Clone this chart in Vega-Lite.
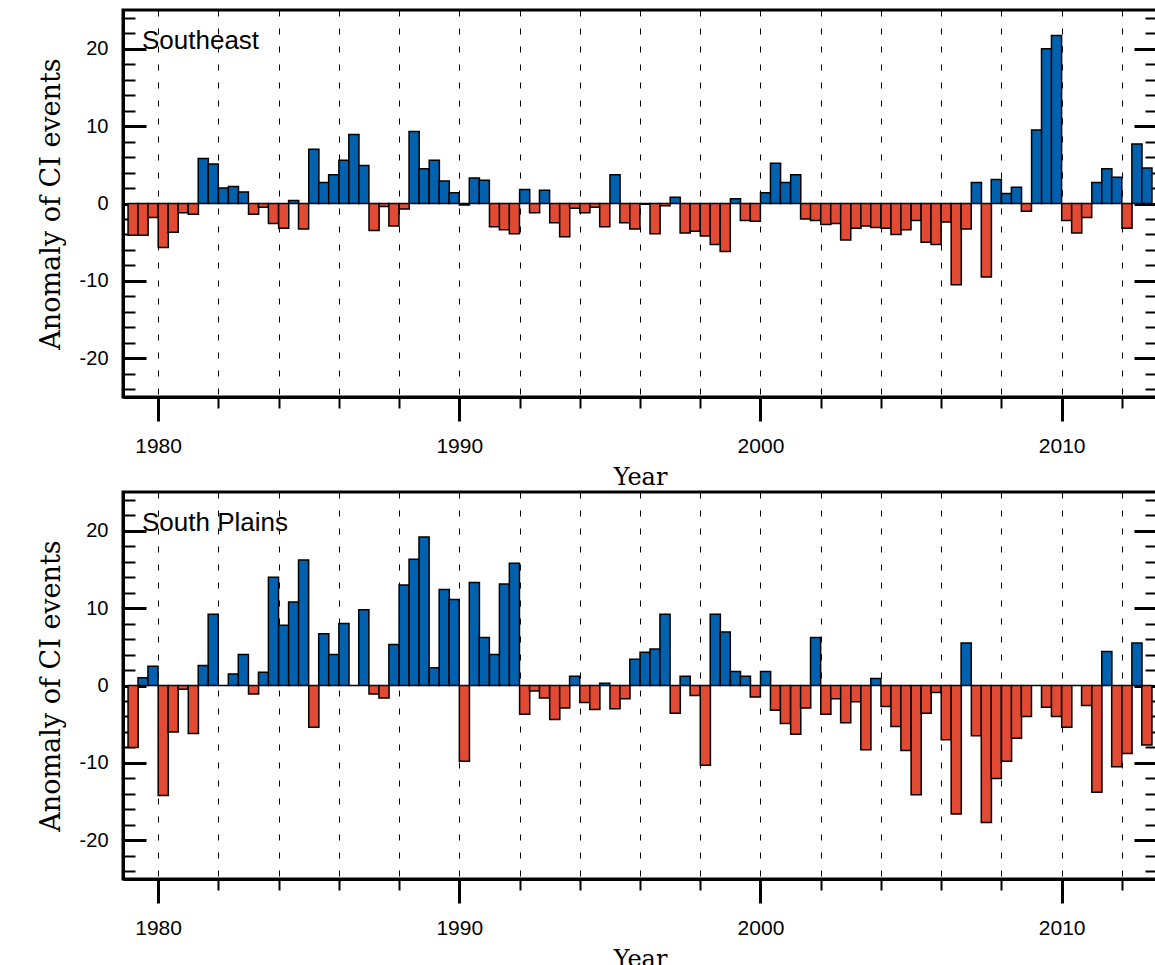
{
  "$schema": "https://vega.github.io/schema/vega-lite/v6.json",
  "background": "white",
  "padding": {"left": 35, "top": 6, "right": 0, "bottom": 0},
  "bounds": "flush",
  "spacing": 95,
  "config": {
    "view": {"stroke": "black", "strokeWidth": 3},
    "axis": {"labelOverlap": false, "labelColor": "black", "titleColor": "black", "tickColor": "black", "domainColor": "black"}
  },
  "datasets": {
    "se": [
      {"t": 1979.17, "v": -4.1}, {"t": 1979.5, "v": -4.1}, {"t": 1979.83, "v": -1.8},
      {"t": 1980.17, "v": -5.7}, {"t": 1980.5, "v": -3.7}, {"t": 1980.83, "v": -1.2},
      {"t": 1981.17, "v": -1.4}, {"t": 1981.5, "v": 5.8}, {"t": 1981.83, "v": 5.1},
      {"t": 1982.17, "v": 2.0}, {"t": 1982.5, "v": 2.2}, {"t": 1982.83, "v": 1.5},
      {"t": 1983.17, "v": -1.4}, {"t": 1983.5, "v": -0.5}, {"t": 1983.83, "v": -2.6},
      {"t": 1984.17, "v": -3.2}, {"t": 1984.5, "v": 0.4}, {"t": 1984.83, "v": -3.3},
      {"t": 1985.17, "v": 7.0}, {"t": 1985.5, "v": 2.7}, {"t": 1985.83, "v": 3.7},
      {"t": 1986.17, "v": 5.6}, {"t": 1986.5, "v": 8.9}, {"t": 1986.83, "v": 4.9},
      {"t": 1987.17, "v": -3.5}, {"t": 1987.5, "v": -0.4}, {"t": 1987.83, "v": -2.9},
      {"t": 1988.17, "v": -0.7}, {"t": 1988.5, "v": 9.3}, {"t": 1988.83, "v": 4.5},
      {"t": 1989.17, "v": 5.6}, {"t": 1989.5, "v": 2.9}, {"t": 1989.83, "v": 1.4},
      {"t": 1990.17, "v": -0.2}, {"t": 1990.5, "v": 3.3}, {"t": 1990.83, "v": 3.0},
      {"t": 1991.17, "v": -3.0}, {"t": 1991.5, "v": -3.4}, {"t": 1991.83, "v": -3.9},
      {"t": 1992.17, "v": 1.8}, {"t": 1992.5, "v": -1.2}, {"t": 1992.83, "v": 1.7},
      {"t": 1993.17, "v": -2.5}, {"t": 1993.5, "v": -4.3}, {"t": 1993.83, "v": -0.6},
      {"t": 1994.17, "v": -1.2}, {"t": 1994.5, "v": -0.5}, {"t": 1994.83, "v": -3.0},
      {"t": 1995.17, "v": 3.7}, {"t": 1995.5, "v": -2.5}, {"t": 1995.83, "v": -3.3},
      {"t": 1996.17, "v": -0.1}, {"t": 1996.5, "v": -3.9}, {"t": 1996.83, "v": -0.3},
      {"t": 1997.17, "v": 0.8}, {"t": 1997.5, "v": -3.8}, {"t": 1997.83, "v": -3.6},
      {"t": 1998.17, "v": -4.2}, {"t": 1998.5, "v": -5.3}, {"t": 1998.83, "v": -6.2},
      {"t": 1999.17, "v": 0.6}, {"t": 1999.5, "v": -2.2}, {"t": 1999.83, "v": -2.3},
      {"t": 2000.17, "v": 1.4}, {"t": 2000.5, "v": 5.2}, {"t": 2000.83, "v": 2.7},
      {"t": 2001.17, "v": 3.7}, {"t": 2001.5, "v": -2.0}, {"t": 2001.83, "v": -2.2},
      {"t": 2002.17, "v": -2.7}, {"t": 2002.5, "v": -2.6}, {"t": 2002.83, "v": -4.7},
      {"t": 2003.17, "v": -3.2}, {"t": 2003.5, "v": -2.9}, {"t": 2003.83, "v": -3.1},
      {"t": 2004.17, "v": -3.2}, {"t": 2004.5, "v": -4.0}, {"t": 2004.83, "v": -3.4},
      {"t": 2005.17, "v": -2.2}, {"t": 2005.5, "v": -5.0}, {"t": 2005.83, "v": -5.3},
      {"t": 2006.17, "v": -2.4}, {"t": 2006.5, "v": -10.5}, {"t": 2006.83, "v": -3.3},
      {"t": 2007.17, "v": 2.7}, {"t": 2007.5, "v": -9.5}, {"t": 2007.83, "v": 3.1},
      {"t": 2008.17, "v": 1.3}, {"t": 2008.5, "v": 2.1}, {"t": 2008.83, "v": -1.0},
      {"t": 2009.17, "v": 9.5}, {"t": 2009.5, "v": 20.0}, {"t": 2009.83, "v": 21.7},
      {"t": 2010.17, "v": -2.2}, {"t": 2010.5, "v": -3.8}, {"t": 2010.83, "v": -1.8},
      {"t": 2011.17, "v": 2.7}, {"t": 2011.5, "v": 4.5}, {"t": 2011.83, "v": 3.4},
      {"t": 2012.17, "v": -3.2}, {"t": 2012.5, "v": 7.7}, {"t": 2012.83, "v": 4.6}
    ],
    "sp": [
      {"t": 1979.17, "v": -8.0}, {"t": 1979.5, "v": 1.0}, {"t": 1979.83, "v": 2.5},
      {"t": 1980.17, "v": -14.2}, {"t": 1980.5, "v": -6.0}, {"t": 1980.83, "v": -0.5},
      {"t": 1981.17, "v": -6.2}, {"t": 1981.5, "v": 2.6}, {"t": 1981.83, "v": 9.2},
      {"t": 1982.17, "v": 0.0}, {"t": 1982.5, "v": 1.5}, {"t": 1982.83, "v": 4.0},
      {"t": 1983.17, "v": -1.1}, {"t": 1983.5, "v": 1.7}, {"t": 1983.83, "v": 14.0},
      {"t": 1984.17, "v": 7.8}, {"t": 1984.5, "v": 10.8}, {"t": 1984.83, "v": 16.2},
      {"t": 1985.17, "v": -5.4}, {"t": 1985.5, "v": 6.7}, {"t": 1985.83, "v": 4.0},
      {"t": 1986.17, "v": 8.0}, {"t": 1986.5, "v": 0.0}, {"t": 1986.83, "v": 9.8},
      {"t": 1987.17, "v": -1.1}, {"t": 1987.5, "v": -1.6}, {"t": 1987.83, "v": 5.3},
      {"t": 1988.17, "v": 13.0}, {"t": 1988.5, "v": 16.3}, {"t": 1988.83, "v": 19.2},
      {"t": 1989.17, "v": 2.3}, {"t": 1989.5, "v": 12.4}, {"t": 1989.83, "v": 11.1},
      {"t": 1990.17, "v": -9.8}, {"t": 1990.5, "v": 13.3}, {"t": 1990.83, "v": 6.2},
      {"t": 1991.17, "v": 4.0}, {"t": 1991.5, "v": 13.1}, {"t": 1991.83, "v": 15.8},
      {"t": 1992.17, "v": -3.7}, {"t": 1992.5, "v": -0.7}, {"t": 1992.83, "v": -1.6},
      {"t": 1993.17, "v": -4.4}, {"t": 1993.5, "v": -2.9}, {"t": 1993.83, "v": 1.2},
      {"t": 1994.17, "v": -2.2}, {"t": 1994.5, "v": -3.1}, {"t": 1994.83, "v": 0.3},
      {"t": 1995.17, "v": -3.0}, {"t": 1995.5, "v": -1.7}, {"t": 1995.83, "v": 3.4},
      {"t": 1996.17, "v": 4.3}, {"t": 1996.5, "v": 4.7}, {"t": 1996.83, "v": 9.2},
      {"t": 1997.17, "v": -3.6}, {"t": 1997.5, "v": 1.2}, {"t": 1997.83, "v": -1.3},
      {"t": 1998.17, "v": -10.3}, {"t": 1998.5, "v": 9.2}, {"t": 1998.83, "v": 6.9},
      {"t": 1999.17, "v": 1.8}, {"t": 1999.5, "v": 1.2}, {"t": 1999.83, "v": -1.5},
      {"t": 2000.17, "v": 1.8}, {"t": 2000.5, "v": -3.2}, {"t": 2000.83, "v": -4.9},
      {"t": 2001.17, "v": -6.3}, {"t": 2001.5, "v": -2.9}, {"t": 2001.83, "v": 6.2},
      {"t": 2002.17, "v": -3.7}, {"t": 2002.5, "v": -1.7}, {"t": 2002.83, "v": -4.8},
      {"t": 2003.17, "v": -2.1}, {"t": 2003.5, "v": -8.3}, {"t": 2003.83, "v": 0.9},
      {"t": 2004.17, "v": -2.7}, {"t": 2004.5, "v": -5.3}, {"t": 2004.83, "v": -8.4},
      {"t": 2005.17, "v": -14.1}, {"t": 2005.5, "v": -3.6}, {"t": 2005.83, "v": -0.9},
      {"t": 2006.17, "v": -7.0}, {"t": 2006.5, "v": -16.6}, {"t": 2006.83, "v": 5.5},
      {"t": 2007.17, "v": -6.5}, {"t": 2007.5, "v": -17.7}, {"t": 2007.83, "v": -12.0},
      {"t": 2008.17, "v": -9.8}, {"t": 2008.5, "v": -6.8}, {"t": 2008.83, "v": -4.0},
      {"t": 2009.17, "v": 0.0}, {"t": 2009.5, "v": -2.8}, {"t": 2009.83, "v": -4.0},
      {"t": 2010.17, "v": -5.4}, {"t": 2010.5, "v": 0.0}, {"t": 2010.83, "v": -2.6},
      {"t": 2011.17, "v": -13.8}, {"t": 2011.5, "v": 4.4}, {"t": 2011.83, "v": -10.5},
      {"t": 2012.17, "v": -8.8}, {"t": 2012.5, "v": 5.5}, {"t": 2012.83, "v": -7.7}
    ]
  },
  "vconcat": [
    {
      "width": 1034,
      "height": 387,
      "title": {"text": "Southeast", "orient": "top", "anchor": "start", "frame": "group", "offset": -67, "dx": 19, "baseline": "alphabetic", "font": "Liberation Sans", "fontSize": 26, "fontWeight": "normal", "color": "black"},
      "layer": [
        {
          "data": {"name": "se"},
          "mark": {"type": "bar", "orient": "vertical", "size": 10.13, "stroke": "black", "strokeWidth": 1.5},
          "encoding": {
            "x": {"field": "t", "type": "quantitative", "scale": {"domain": [1979, 2013], "nice": false, "zero": false},
              "axis": {"values": [1980, 1982, 1984, 1986, 1988, 1990, 1992, 1994, 1996, 1998, 2000, 2002, 2004, 2006, 2008, 2010, 2012],
                "labelExpr": "datum.value % 10 === 0 ? '' + datum.value : ''",
                "tickSize": {"condition": {"test": "datum.value % 10 === 0", "value": 24}, "value": 11},
                "tickWidth": {"condition": {"test": "datum.value % 10 === 0", "value": 3}, "value": 2},
                "grid": true, "gridDash": [6, 12], "gridColor": "black", "gridWidth": 1, "gridOpacity": 1,
                "domainWidth": 3, "labelPadding": 14, "labelFont": "Liberation Sans", "labelFontSize": 21, "labelFlush": false,
                "title": "Year", "titleFont": "DejaVu Serif", "titleFontSize": 24, "titleFontWeight": "normal", "titlePadding": 9}},
            "y": {"field": "v", "type": "quantitative", "scale": {"domain": [-25, 25], "nice": false},
              "axis": {"values": [-24, -22, -20, -18, -16, -14, -12, -10, -8, -6, -4, -2, 0, 2, 4, 6, 8, 10, 12, 14, 16, 18, 20, 22, 24],
                "labelExpr": "datum.value % 10 === 0 ? '' + datum.value : ''",
                "tickSize": {"condition": {"test": "datum.value % 10 === 0", "value": -23}, "value": -12},
                "tickWidth": {"condition": {"test": "datum.value % 10 === 0", "value": 3}, "value": 2},
                "labelPadding": 38, "grid": false, "domainWidth": 3, "labelFont": "Liberation Sans", "labelFontSize": 20,
                "title": "Anomaly of CI events", "titleFont": "DejaVu Serif", "titleFontSize": 27, "titleFontWeight": "normal", "titlePadding": 14}},
            "fill": {"condition": {"test": "datum.v >= 0", "value": "#0062AE"}, "value": "#E24A33"}
          }
        },
        {
          "data": {"values": [{}]},
          "mark": {"type": "rule", "opacity": 0},
          "encoding": {
            "y": {"datum": 0, "type": "quantitative",
              "axis": {"orient": "right", "values": [-24, -22, -20, -18, -16, -14, -12, -10, -8, -6, -4, -2, 0, 2, 4, 6, 8, 10, 12, 14, 16, 18, 20, 22, 24],
                "labels": false, "title": null, "domain": false, "grid": false,
                "tickSize": {"condition": {"test": "datum.value % 10 === 0", "value": -23}, "value": -12},
                "tickWidth": {"condition": {"test": "datum.value % 10 === 0", "value": 3}, "value": 2}}}
          }
        }
      ],
      "resolve": {"axis": {"y": "independent"}}
    },
    {
      "width": 1034,
      "height": 387,
      "title": {"text": "South Plains", "orient": "top", "anchor": "start", "frame": "group", "offset": -67, "dx": 19, "baseline": "alphabetic", "font": "Liberation Sans", "fontSize": 26, "fontWeight": "normal", "color": "black"},
      "layer": [
        {
          "data": {"name": "sp"},
          "mark": {"type": "bar", "orient": "vertical", "size": 10.13, "stroke": "black", "strokeWidth": 1.5},
          "encoding": {
            "x": {"field": "t", "type": "quantitative", "scale": {"domain": [1979, 2013], "nice": false, "zero": false},
              "axis": {"values": [1980, 1982, 1984, 1986, 1988, 1990, 1992, 1994, 1996, 1998, 2000, 2002, 2004, 2006, 2008, 2010, 2012],
                "labelExpr": "datum.value % 10 === 0 ? '' + datum.value : ''",
                "tickSize": {"condition": {"test": "datum.value % 10 === 0", "value": 24}, "value": 11},
                "tickWidth": {"condition": {"test": "datum.value % 10 === 0", "value": 3}, "value": 2},
                "grid": true, "gridDash": [6, 12], "gridColor": "black", "gridWidth": 1, "gridOpacity": 1,
                "domainWidth": 3, "labelPadding": 14, "labelFont": "Liberation Sans", "labelFontSize": 21, "labelFlush": false,
                "title": "Year", "titleFont": "DejaVu Serif", "titleFontSize": 24, "titleFontWeight": "normal", "titlePadding": 9}},
            "y": {"field": "v", "type": "quantitative", "scale": {"domain": [-25, 25], "nice": false},
              "axis": {"values": [-24, -22, -20, -18, -16, -14, -12, -10, -8, -6, -4, -2, 0, 2, 4, 6, 8, 10, 12, 14, 16, 18, 20, 22, 24],
                "labelExpr": "datum.value % 10 === 0 ? '' + datum.value : ''",
                "tickSize": {"condition": {"test": "datum.value % 10 === 0", "value": -23}, "value": -12},
                "tickWidth": {"condition": {"test": "datum.value % 10 === 0", "value": 3}, "value": 2},
                "labelPadding": 38, "grid": false, "domainWidth": 3, "labelFont": "Liberation Sans", "labelFontSize": 20,
                "title": "Anomaly of CI events", "titleFont": "DejaVu Serif", "titleFontSize": 27, "titleFontWeight": "normal", "titlePadding": 14}},
            "fill": {"condition": {"test": "datum.v >= 0", "value": "#0062AE"}, "value": "#E24A33"}
          }
        },
        {
          "data": {"values": [{}]},
          "mark": {"type": "rule", "opacity": 0},
          "encoding": {
            "y": {"datum": 0, "type": "quantitative",
              "axis": {"orient": "right", "values": [-24, -22, -20, -18, -16, -14, -12, -10, -8, -6, -4, -2, 0, 2, 4, 6, 8, 10, 12, 14, 16, 18, 20, 22, 24],
                "labels": false, "title": null, "domain": false, "grid": false,
                "tickSize": {"condition": {"test": "datum.value % 10 === 0", "value": -23}, "value": -12},
                "tickWidth": {"condition": {"test": "datum.value % 10 === 0", "value": 3}, "value": 2}}}
          }
        }
      ],
      "resolve": {"axis": {"y": "independent"}}
    }
  ]
}
